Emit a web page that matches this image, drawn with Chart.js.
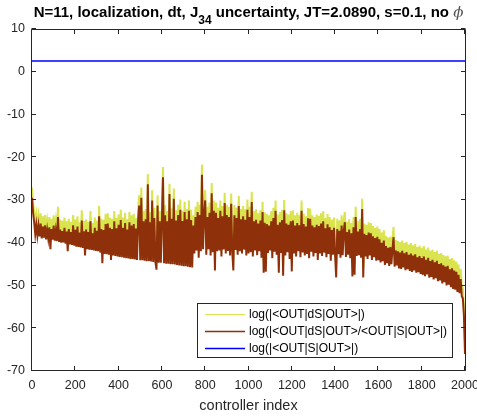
<!DOCTYPE html>
<html><head><meta charset="utf-8">
<script src="https://cdn.jsdelivr.net/npm/chart.js@4.4.1/dist/chart.umd.min.js"></script>
<style>html,body{margin:0;padding:0;background:#fff;}#wrap{width:477px;height:419px;}</style>
</head><body><div id="wrap"><canvas id="c" width="477" height="419"></canvas></div>
<script>
const seriesLabels = ['log(|<OUT|dS|OUT>|)', 'log(|<OUT|dS|OUT>/<OUT|S|OUT>|)', 'log(|<OUT|S|OUT>|)'];
const titleParts = ['N=11, localization, dt, J', '34', ' uncertainty, JT=2.0890, s=0.1, no ', '\u03D5'];
const xLabel = 'controller index';
const xTicks = [0, 200, 400, 600, 800, 1000, 1200, 1400, 1600, 1800, 2000];
const yTicks = [-70, -60, -50, -40, -30, -20, -10, 0, 10];
const sampleStep = 5; // controller-index spacing of the samples below

// log(|<OUT|dS|OUT>|)  (yellow)
const logDS = [
-27.1,-30.6,-32.8,-35.6,-33.4,-35.9,-33.6,-36.1,-33.1,-36.6,
-33.8,-36.4,-33.5,-36.8,-34.6,-36.6,-34.0,-39.1,-34.4,-36.9,
-33.6,-37.1,-34.8,-37.2,-31.6,-37.4,-34.5,-37.6,-34.9,-37.5,
-34.1,-37.8,-35.0,-39.6,-34.4,-38.0,-35.1,-38.1,-33.5,-38.3,
-34.6,-38.5,-33.8,-38.6,-35.2,-38.7,-32.4,-38.8,-34.9,-40.6,
-34.5,-39.1,-35.1,-39.2,-32.6,-39.3,-35.4,-39.4,-34.1,-39.5,
-34.8,-39.6,-31.4,-39.9,-34.4,-42.4,-34.6,-40.2,-33.2,-40.3,
-33.1,-40.4,-34.1,-41.6,-34.4,-40.6,-32.6,-40.7,-34.2,-40.8,
-33.4,-40.9,-32.3,-41.0,-34.1,-41.1,-33.0,-41.2,-34.5,-41.3,
-32.8,-41.4,-33.6,-41.4,-33.2,-41.5,-34.3,-41.6,-32.4,-28.9,
-41.7,-27.1,-41.7,-32.6,-41.8,-32.1,-41.9,-23.9,-41.9,-32.8,
-42.0,-27.7,-42.1,-31.8,-42.1,-43.9,-28.9,-42.3,-32.6,-42.3,
-32.2,-22.3,-42.4,-31.2,-42.5,-32.6,-42.5,-26.2,-42.6,-32.0,
-42.6,-27.3,-42.7,-32.4,-42.8,-31.1,-42.9,-29.9,-43.0,-32.5,
-43.1,-30.4,-43.1,-32.1,-43.2,-30.1,-43.3,-32.3,-43.4,-33.6,
-40.1,-31.6,-39.4,-30.4,-41.1,-31.1,-39.6,-21.7,-39.1,-30.8,
-27.7,-40.4,-31.6,-39.1,-30.6,-40.6,-26.0,-39.8,-30.1,-44.1,
-30.6,-39.6,-31.8,-39.4,-30.1,-40.8,-31.4,-39.2,-28.3,-40.1,
-31.1,-39.5,-31.6,-40.6,-28.5,-39.7,-44.1,-31.2,-39.3,-31.8,
-40.4,-29.0,-39.6,-32.1,-40.1,-31.4,-39.2,-32.2,-40.6,-29.9,
-40.1,-31.6,-39.8,-28.1,-40.8,-32.6,-39.4,-32.2,-40.5,-33.1,
-39.6,-32.4,-41.1,-30.4,-44.6,-32.9,-44.4,-33.2,-40.0,-33.6,
-39.4,-32.6,-41.2,-31.8,-39.7,-30.1,-40.4,-33.4,-44.6,-32.8,
-40.0,-32.3,-45.3,-30.0,-40.6,-33.1,-39.8,-33.4,-41.4,-32.6,
-44.3,-32.4,-40.1,-33.6,-40.8,-33.0,-39.6,-33.5,-41.0,-30.1,
-39.9,-33.2,-40.6,-33.8,-40.2,-31.9,-41.2,-32.0,-39.7,-33.6,
-40.8,-34.0,-40.0,-33.4,-41.6,-33.7,-40.1,-33.1,-40.7,-32.6,
-39.9,-34.2,-41.0,-33.3,-40.2,-34.0,-41.8,-34.6,-40.4,-34.1,
-40.6,-45.7,-34.4,-40.3,-34.8,-41.1,-33.6,-40.5,-34.7,-32.8,
-40.9,-35.1,-40.4,-34.5,-41.2,-35.4,-45.5,-34.0,-45.1,-31.6,
-40.7,-35.0,-40.5,-34.4,-41.1,-29.7,-45.7,-35.5,-40.8,-35.8,
-41.4,-35.2,-40.6,-35.4,-41.6,-36.1,-41.0,-36.5,-41.8,-36.2,
-41.7,-36.8,-42.2,-37.6,-41.9,-37.1,-42.8,-38.4,-42.4,-38.8,
-43.0,-38.6,-42.6,-39.1,-36.3,-43.2,-39.4,-42.9,-39.6,-43.6,
-39.9,-43.7,-39.5,-43.4,-40.1,-44.0,-39.8,-43.8,-40.4,-44.2,
-40.1,-44.4,-40.6,-44.1,-40.3,-44.6,-41.0,-44.5,-40.7,-44.9,
-41.2,-45.1,-40.8,-45.4,-41.6,-45.0,-41.1,-45.8,-41.9,-45.6,
-41.6,-46.2,-42.2,-45.9,-41.8,-46.6,-42.6,-46.4,-42.4,-47.1,
-42.9,-46.8,-43.2,-47.6,-43.0,-47.4,-43.8,-48.0,-43.6,-48.4,
-44.1,-48.6,-44.4,-49.1,-45.1,-49.4,-46.1,-50.1,-50.6,-54.6,
-63.6
];

// log(|<OUT|dS|OUT>/<OUT|S|OUT>|)  (brown)
const logRatio = [
-29.5,-33.0,-35.2,-38.0,-35.8,-38.3,-36.0,-38.5,-35.5,-39.0,
-36.2,-38.8,-35.9,-39.2,-37.0,-39.0,-36.4,-41.5,-36.8,-39.3,
-36.0,-39.5,-37.2,-39.6,-34.0,-39.8,-36.9,-40.0,-37.3,-39.9,
-36.5,-40.2,-37.4,-42.0,-36.8,-40.4,-37.5,-40.5,-35.9,-40.7,
-37.0,-40.9,-36.2,-41.0,-37.6,-41.1,-34.8,-41.2,-37.3,-43.0,
-36.9,-41.5,-37.5,-41.6,-35.0,-41.7,-37.8,-41.8,-36.5,-41.9,
-37.2,-42.0,-33.8,-42.3,-36.8,-44.8,-37.0,-42.6,-35.6,-42.7,
-35.5,-42.8,-36.5,-44.0,-36.8,-43.0,-35.0,-43.1,-36.6,-43.2,
-35.8,-43.3,-34.7,-43.4,-36.5,-43.5,-35.4,-43.6,-36.9,-43.7,
-35.2,-43.8,-36.0,-43.8,-35.6,-43.9,-36.7,-44.0,-34.8,-31.3,
-44.1,-29.5,-44.1,-35.0,-44.2,-34.5,-44.3,-26.3,-44.3,-35.2,
-44.4,-30.1,-44.5,-34.2,-44.5,-46.3,-31.3,-44.7,-35.0,-44.7,
-34.6,-24.7,-44.8,-33.6,-44.9,-35.0,-44.9,-28.6,-45.0,-34.4,
-45.0,-29.7,-45.1,-34.8,-45.2,-33.5,-45.3,-32.3,-45.4,-34.9,
-45.5,-32.8,-45.5,-34.5,-45.6,-32.5,-45.7,-34.7,-45.8,-36.0,
-42.5,-34.0,-41.8,-32.8,-43.5,-33.5,-42.0,-24.1,-41.5,-33.2,
-30.1,-42.8,-34.0,-41.5,-33.0,-43.0,-28.4,-42.2,-32.5,-46.5,
-33.0,-42.0,-34.2,-41.8,-32.5,-43.2,-33.8,-41.6,-30.7,-42.5,
-33.5,-41.9,-34.0,-43.0,-30.9,-42.1,-46.5,-33.6,-41.7,-34.2,
-42.8,-31.4,-42.0,-34.5,-42.5,-33.8,-41.6,-34.6,-43.0,-32.3,
-42.5,-34.0,-42.2,-30.5,-43.2,-35.0,-41.8,-34.6,-42.9,-35.5,
-42.0,-34.8,-43.5,-32.8,-47.0,-35.3,-46.8,-35.6,-42.4,-36.0,
-41.8,-35.0,-43.6,-34.2,-42.1,-32.5,-42.8,-35.8,-47.0,-35.2,
-42.4,-34.7,-47.7,-32.4,-43.0,-35.5,-42.2,-35.8,-43.8,-35.0,
-46.7,-34.8,-42.5,-36.0,-43.2,-35.4,-42.0,-35.9,-43.4,-32.5,
-42.3,-35.6,-43.0,-36.2,-42.6,-34.3,-43.6,-34.4,-42.1,-36.0,
-43.2,-36.4,-42.4,-35.8,-44.0,-36.1,-42.5,-35.5,-43.1,-35.0,
-42.3,-36.6,-43.4,-35.7,-42.6,-36.4,-44.2,-37.0,-42.8,-36.5,
-43.0,-48.1,-36.8,-42.7,-37.2,-43.5,-36.0,-42.9,-37.1,-35.2,
-43.3,-37.5,-42.8,-36.9,-43.6,-37.8,-47.9,-36.4,-47.5,-34.0,
-43.1,-37.4,-42.9,-36.8,-43.5,-32.1,-48.1,-37.9,-43.2,-38.2,
-43.8,-37.6,-43.0,-37.8,-44.0,-38.5,-43.4,-38.9,-44.2,-38.6,
-44.1,-39.2,-44.6,-40.0,-44.3,-39.5,-45.2,-40.8,-44.8,-41.2,
-45.4,-41.0,-45.0,-41.5,-38.7,-45.6,-41.8,-45.3,-42.0,-46.0,
-42.3,-46.1,-41.9,-45.8,-42.5,-46.4,-42.2,-46.2,-42.8,-46.6,
-42.5,-46.8,-43.0,-46.5,-42.7,-47.0,-43.4,-46.9,-43.1,-47.3,
-43.6,-47.5,-43.2,-47.8,-44.0,-47.4,-43.5,-48.2,-44.3,-48.0,
-44.0,-48.6,-44.6,-48.3,-44.2,-49.0,-45.0,-48.8,-44.8,-49.5,
-45.3,-49.2,-45.6,-50.0,-45.4,-49.8,-46.2,-50.4,-46.0,-50.8,
-46.5,-51.0,-46.8,-51.5,-47.5,-51.8,-48.5,-52.5,-53.0,-57.0,
-66.0
];

// log(|<OUT|S|OUT>|)  (blue, flat)
const logSIndex = [0, 2000];
const logS = [2.5, 2.5];

const colYellow = 'rgb(218,228,78)';
const colBrown = 'rgb(142,48,10)';
const colBlue = 'rgb(0,0,255)';
const axisColor = '#262626';
const sans = '"Liberation Sans", Arial, Helvetica, sans-serif';

const toPts = (vals) => vals.map((v, k) => ({x: k * sampleStep, y: v}));

const decorPlugin = {
  id: 'decor',
  afterDatasetsDraw(chart) {
    const ctx = chart.ctx;
    const xs = chart.scales.x, ys = chart.scales.y;
    const L = 31.5, R = 465.5, T = 29.5, B = 370.5;
    ctx.save();
    ctx.strokeStyle = axisColor;
    ctx.lineWidth = 1;
    ctx.beginPath();
    ctx.moveTo(L, T); ctx.lineTo(R, T); ctx.lineTo(R, B); ctx.lineTo(L, B); ctx.closePath();
    const tl = 4.5;
    xTicks.forEach(v => {
      const px = Math.round(xs.getPixelForValue(v)) - 0.5;
      ctx.moveTo(px, B); ctx.lineTo(px, B - tl);
      ctx.moveTo(px, T); ctx.lineTo(px, T + tl);
    });
    yTicks.forEach(v => {
      const py = Math.round(ys.getPixelForValue(v)) - 0.5;
      ctx.moveTo(L, py); ctx.lineTo(L + tl, py);
      ctx.moveTo(R, py); ctx.lineTo(R - tl, py);
    });
    ctx.stroke();

    // legend box (inside, lower right)
    const bx = 197.5, by = 303.5, bw = 255, bh = 54;
    ctx.fillStyle = '#fff';
    ctx.fillRect(bx, by, bw, bh);
    ctx.strokeStyle = axisColor;
    ctx.strokeRect(bx, by, bw, bh);
    const rows = [314, 331, 348];
    const cols = [colYellow, colBrown, colBlue];
    const widths = [1, 1.3, 1.5];
    ctx.font = '12px ' + sans;
    ctx.textBaseline = 'middle';
    ctx.textAlign = 'left';
    rows.forEach((ry, k) => {
      ctx.strokeStyle = cols[k];
      ctx.lineWidth = widths[k];
      ctx.beginPath();
      ctx.moveTo(205, ry + 0.5); ctx.lineTo(245, ry + 0.5);
      ctx.stroke();
      ctx.fillStyle = '#000';
      ctx.fillText(seriesLabels[k], 249, ry + 1);
    });
    ctx.restore();
  },
  afterDraw(chart) {
    const ctx = chart.ctx;
    ctx.save();
    const fMain = 'bold 15px ' + sans;
    const fSub = 'bold 12px ' + sans;
    const fPhi = 'italic 15px "DejaVu Serif", "Liberation Serif", serif';
    ctx.font = fMain; const w0 = ctx.measureText(titleParts[0]).width;
    ctx.font = fSub; const w1 = ctx.measureText(titleParts[1]).width;
    ctx.font = fMain; const w2 = ctx.measureText(titleParts[2]).width;
    ctx.font = fPhi; const w3 = ctx.measureText(titleParts[3]).width;
    const total = w0 + w1 + w2 + w3;
    let x = 248.5 - total / 2;
    const base = 16.5;
    ctx.fillStyle = '#000';
    ctx.textBaseline = 'alphabetic';
    ctx.textAlign = 'left';
    ctx.font = fMain; ctx.fillText(titleParts[0], x, base); x += w0;
    ctx.font = fSub; ctx.fillText(titleParts[1], x, base + 7.8); x += w1;
    ctx.font = fMain; ctx.fillText(titleParts[2], x, base); x += w2;
    ctx.font = fPhi; ctx.fillStyle = '#555'; ctx.fillText(titleParts[3], x, base);
    ctx.restore();
  }
};

new Chart(document.getElementById('c'), {
  type: 'line',
  data: {
    datasets: [
      { label: seriesLabels[0], data: toPts(logDS), borderColor: colYellow, borderWidth: 2, pointRadius: 0, tension: 0, order: 2, borderJoinStyle: 'miter' },
      { label: seriesLabels[1], data: toPts(logRatio), borderColor: colBrown, borderWidth: 2, pointRadius: 0, tension: 0, order: 1, borderJoinStyle: 'miter' },
      { label: seriesLabels[2], data: logSIndex.map((xv, k) => ({x: xv, y: logS[k]})), borderColor: colBlue, borderWidth: 1.5, pointRadius: 0, tension: 0, order: 0 }
    ]
  },
  plugins: [decorPlugin],
  options: {
    responsive: false,
    animation: false,
    devicePixelRatio: 1,
    layout: { padding: { top: 29, right: 12, left: 0, bottom: 0 } },
    plugins: { legend: { display: false }, title: { display: false }, tooltip: { enabled: false } },
    scales: {
      x: {
        type: 'linear', min: 0, max: 2000,
        afterBuildTicks: (s) => { s.ticks = xTicks.map(v => ({value: v})); },
        afterFit: (s) => { s.height = 48; s.paddingLeft = 0; s.paddingRight = 0; },
        grid: { display: false, drawTicks: false },
        border: { display: false },
        ticks: { padding: 7, color: axisColor, font: { family: sans, size: 12.5 }, maxRotation: 0, autoSkip: false, callback: (v) => String(v) },
        title: { display: true, text: xLabel, color: axisColor, font: { family: sans, size: 14.5 }, padding: { top: 0, bottom: 4 } }
      },
      y: {
        type: 'linear', min: -70, max: 10,
        afterBuildTicks: (s) => { s.ticks = yTicks.map(v => ({value: v})); },
        afterFit: (s) => { s.width = 32; s.paddingTop = 0; s.paddingBottom = 0; },
        grid: { display: false, drawTicks: false },
        border: { display: false },
        ticks: { padding: 7, color: axisColor, font: { family: sans, size: 12.5 }, autoSkip: false, callback: (v) => String(v) }
      }
    }
  }
});
</script>
</body></html>
